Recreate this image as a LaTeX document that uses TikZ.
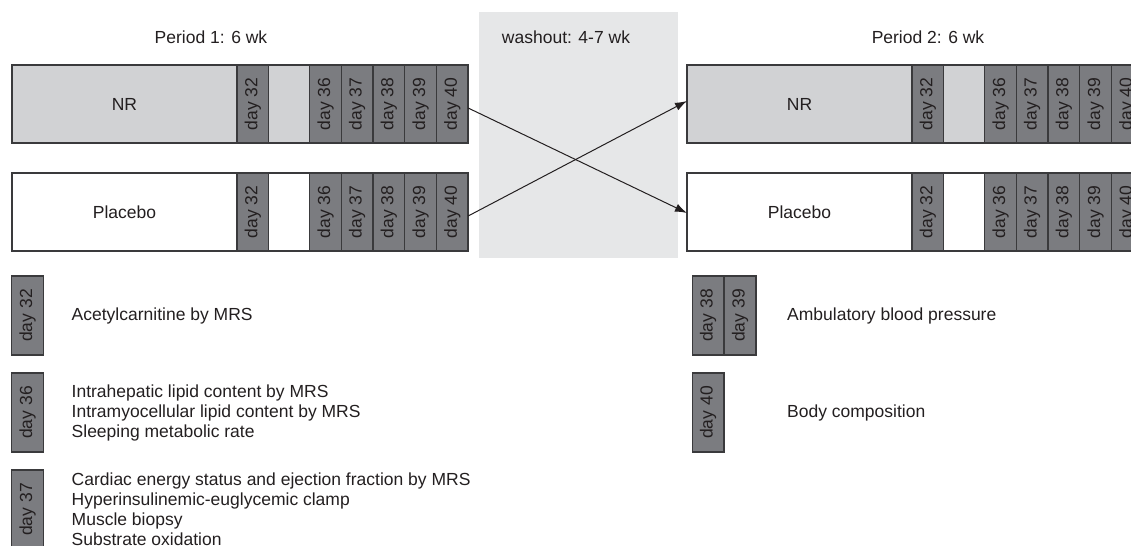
\documentclass[tikz,border=0pt]{standalone}
\usepackage{fontspec}
\setmainfont{Liberation Sans}
\usepackage{graphicx}
\usetikzlibrary{positioning,arrows.meta}

\definecolor{cellgray}{HTML}{7B7C80}
\definecolor{armgray}{HTML}{D1D2D4}
\definecolor{washgray}{HTML}{E6E7E8}
\definecolor{edgegray}{HTML}{3A3A3C}
\definecolor{inkgray}{HTML}{231F20}

\tikzset{
  armbox/.style={draw=edgegray, line width=0.7pt, inner sep=0pt, outer sep=0pt,
    minimum width=112.5pt, minimum height=39pt, text=inkgray},
  daycell/.style={armbox, fill=cellgray, minimum width=15.85pt},
  keycell/.style={daycell, minimum width=15.8pt, minimum height=39.5pt},
  keytext/.style={inner sep=0pt, align=left, text=inkgray, anchor=west},
}

\begin{document}
\begin{tikzpicture}[x=0.5pt,y=-0.5pt,>={Latex[length=6pt,width=4.2pt]},
    font=\fontsize{8.75}{10}\selectfont]
  \useasboundingbox (0,0) rectangle (1131,546);
  \clip (0,0) rectangle (1131,546);
  % washout band and period headers
  \node[fill=washgray, inner sep=0pt, minimum width=99.5pt, minimum height=123pt] (washout) at (578.5,135) {};
  \node[text=inkgray] (washlab) at (566,37) {washout: 4-7 wk};
  \node[text=inkgray] (period1) at (211,37) {Period 1: 6 wk};
  \node[text=inkgray] (period2) at (928,37) {Period 2: 6 wk};
  % the four arm bars with their study days
  \foreach \arm/\xo/\yo/\fc/\lab in {nrA/12/104/armgray/NR, plA/12/212/white/Placebo,
      nrB/687/104/armgray/NR, plB/687/212/white/Placebo} {
    \node[armbox, fill=\fc] (\arm) at (\xo+112.5,\yo) {\lab};
    \node[armbox, fill=\fc, minimum width=20.5pt] (\arm-gap) at (\xo+277.1,\yo) {};
    \foreach \d/\c in {32/240.8, 36/313.5, 37/345.2, 38/376.9, 39/408.6, 40/440.3}
      \node[daycell] (\arm-\d) at (\xo+\c,\yo) {\rotatebox{90}{day \d}};
  }
  % crossover
  \draw[->, line width=0.5pt, inkgray] ([yshift=-2pt]nrA-40.east) -- ([yshift=-0.5pt]plB.west);
  \draw[->, line width=0.5pt, inkgray] ([yshift=-2pt]plA-40.east) -- ([yshift=1.5pt]nrB.west);
  % key: measurements per day
  \node[keycell] (key32) at (27.5,315.5) {\rotatebox{90}{day 32}};
  \node[keycell] (key36) at (27.5,412.5) {\rotatebox{90}{day 36}};
  \node[keycell] (key37) at (27.5,509.5) {\rotatebox{90}{day 37}};
  \node[keycell] (key38) at (708,315.5) {\rotatebox{90}{day 38}};
  \node[keycell] (key39) at (740,315.5) {\rotatebox{90}{day 39}};
  \node[keycell] (key40) at (708,412.5) {\rotatebox{90}{day 40}};
  \node[keytext, right=14pt of key32] (acetxt) {Acetylcarnitine by MRS};
  \node[keytext, right=14pt of key36] (lipidtxt) {Intrahepatic lipid content by MRS\\
    Intramyocellular lipid content by MRS\\ Sleeping metabolic rate};
  \node[keytext, right=14pt of key37] (clamptxt) {Cardiac energy status and ejection fraction by MRS\\
    Hyperinsulinemic-euglycemic clamp\\ Muscle biopsy\\ Substrate oxidation};
  \node[keytext, right=15.5pt of key39] (ambtxt) {Ambulatory blood pressure};
  \node[keytext] (bodytxt) at (ambtxt.west |- key40) {Body composition};
\end{tikzpicture}
\end{document}
